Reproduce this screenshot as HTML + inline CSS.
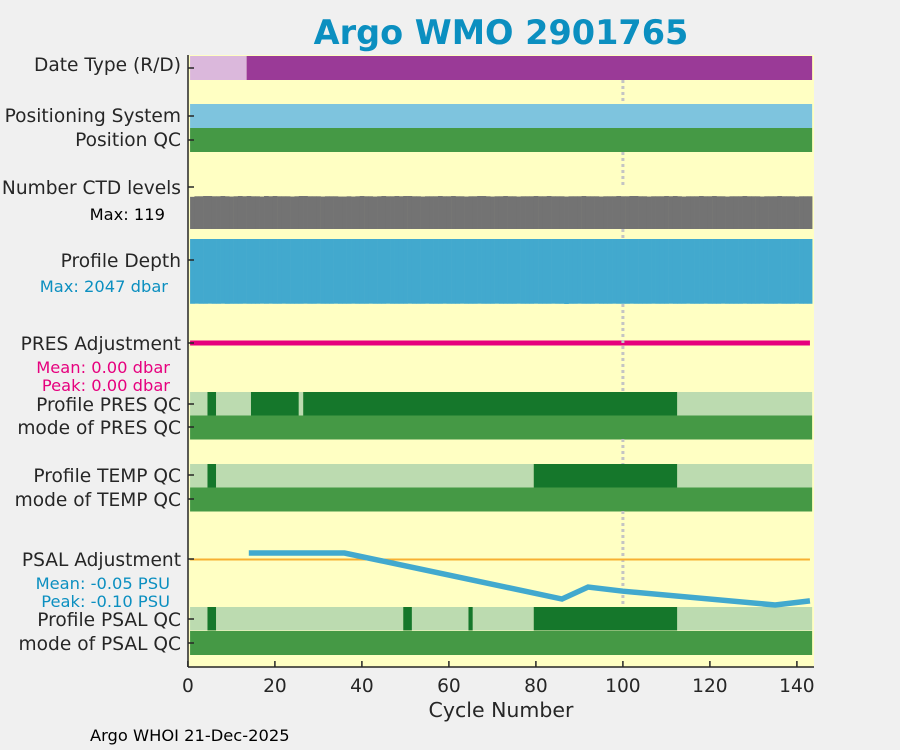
<!DOCTYPE html>
<html><head><meta charset="utf-8"><style>
body{margin:0;background:#f0f0f0;}
svg{display:block;font-family:"DejaVu Sans","Liberation Sans",sans-serif;}
</style></head><body>
<svg id="c" width="900" height="750" xmlns="http://www.w3.org/2000/svg">
<rect x="0" y="0" width="900" height="750" fill="#f0f0f0"/>
<text x="501" y="44" text-anchor="middle" font-size="33.5" font-weight="bold" fill="#0b8fc0">Argo WMO 2901765</text>
<rect x="188" y="55" width="626" height="612" fill="#ffffc3"/>
<g id="marks"></g>
<g id="labels" font-size="18.6" fill="#262626" text-anchor="end">
<text x="181" y="71">Date Type (R/D)</text>
<text x="181" y="122">Positioning System</text>
<text x="181" y="146">Position QC</text>
<text x="181" y="194">Number CTD levels</text>
<text x="165" y="220" font-size="16.3" fill="#000">Max: 119</text>
<text x="181" y="267">Profile Depth</text>
<text x="168" y="292" font-size="16.3" fill="#0b8fc0">Max: 2047 dbar</text>
<text x="181" y="350">PRES Adjustment</text>
<text x="170" y="373" font-size="16.3" fill="#e6007e">Mean: 0.00 dbar</text>
<text x="170" y="391" font-size="16.3" fill="#e6007e">Peak: 0.00 dbar</text>
<text x="181" y="411">Profile PRES QC</text>
<text x="181" y="434">mode of PRES QC</text>
<text x="181" y="482">Profile TEMP QC</text>
<text x="181" y="506">mode of TEMP QC</text>
<text x="181" y="566">PSAL Adjustment</text>
<text x="170" y="589" font-size="16.3" fill="#0b8fc0">Mean: -0.05 PSU</text>
<text x="170" y="607" font-size="16.3" fill="#0b8fc0">Peak: -0.10 PSU</text>
<text x="181" y="626">Profile PSAL QC</text>
<text x="181" y="650">mode of PSAL QC</text>
</g>
<g id="axis"></g>
<text x="501" y="717" text-anchor="middle" font-size="20.5" fill="#262626">Cycle Number</text>
<text x="90" y="741" font-size="16.3" fill="#000">Argo WHOI 21-Dec-2025</text>
</svg>
<script>
const NS="http://www.w3.org/2000/svg";
const xTicks=[0,20,40,60,80,100,120,140];
const dateSegments=[[0.5,13.5,"#dbb8dc"],[13.5,143.5,"#9a3a97"]];
const presQC=[[0.5,4.5,"l"],[4.5,6.5,"d"],[6.5,14.5,"l"],[14.5,25.5,"d"],[25.5,26.5,"l"],[26.5,112.5,"d"],[112.5,143.5,"l"]];
const tempQC=[[0.5,4.5,"l"],[4.5,6.5,"d"],[6.5,79.5,"l"],[79.5,112.5,"d"],[112.5,143.5,"l"]];
const psalQC=[[0.5,4.5,"l"],[4.5,6.5,"d"],[6.5,49.5,"l"],[49.5,51.5,"d"],[51.5,64.5,"l"],[64.5,65.5,"d"],[65.5,79.5,"l"],[79.5,112.5,"d"],[112.5,143.5,"l"]];
const psalCycles=[14,36,86,92,100,135,143];
const psalAdj=[0.013,0.013,-0.087,-0.061,-0.070,-0.100,-0.091];
const ctdLevels=[116,118,118,119,119,118,118,119,118,117,118,119,118,119,118,118,117,119,118,119,118,118,118,117,118,119,119,118,118,118,117,118,118,118,117,117,118,117,118,119,118,118,117,118,119,118,118,119,118,119,119,118,118,117,118,118,118,119,118,118,119,118,118,117,118,118,119,119,118,117,118,118,119,118,118,117,118,118,118,119,118,118,119,118,118,118,117,118,118,118,119,118,118,118,117,118,118,118,119,118,118,119,119,118,118,117,118,118,118,119,118,119,118,117,118,118,118,119,118,118,119,118,118,117,118,118,118,119,118,118,118,117,118,118,118,119,118,118,118,117,118,118,118];
const depths=[2040,2037,2040,2040,2037,2040,2040,2037,2042,2040,2040,2040,2037,2040,2040,2040,2037,2040,2037,2040,2040,2037,2040,2040,2040,2040,2037,2040,2040,2037,2040,2040,2040,2037,2040,2040,2040,2037,2040,2040,2040,2037,2040,2040,2040,2037,2040,2040,2040,2040,2037,2040,2040,2040,2037,2040,2040,2040,2037,2040,2040,2040,2037,2040,2040,2040,2037,2040,2040,2040,2037,2040,2040,2040,2040,2037,2040,2040,2040,2037,2040,2040,2040,2037,2040,2040,2047,2040,2040,2037,2040,2040,2040,2037,2040,2040,2040,2037,2040,2040,2040,2037,2040,2040,2040,2040,2037,2040,2040,2040,2037,2040,2040,2040,2037,2040,2040,2040,2037,2040,2040,2040,2037,2040,2040,2040,2040,2037,2040,2040,2040,2037,2040,2040,2040,2037,2040,2040,2040,2037,2040,2040,2040];
const X0=187.9, PX=4.35;
function x(c){return X0+c*PX;}
const g=document.getElementById('marks');
function rect(x1,y1,w,h,fill,name){const r=document.createElementNS(NS,'rect');r.setAttribute('x',x1);r.setAttribute('y',y1);r.setAttribute('width',w);r.setAttribute('height',h);r.setAttribute('fill',fill);


g.appendChild(r);return r;}
dateSegments.forEach(s=>rect(x(s[0]),56,x(s[1])-x(s[0]),24,s[2],'date-type-segment'));
rect(x(0.5),104,x(143.5)-x(0.5),24,"#7ec4de",'positioning-system-bar');
rect(x(0.5),128,x(143.5)-x(0.5),24,"#459945",'position-qc-bar');
function yCtd(v){return 229-(v/119)*33;}
ctdLevels.forEach((v,i)=>{const c=i+1;rect(x(c-0.5),yCtd(v),PX+0.3,229-yCtd(v),"#737373",'ctd-level-bar');});
function yDep(v){return 239+(v/2047)*65;}
depths.forEach((v,i)=>{const c=i+1;rect(x(c-0.5),239,PX+0.3,yDep(v)-239,"#42a9ce",'profile-depth-bar');});
rect(x(0.5),340.5,x(143)-x(0.5),5,"#e6007e",'pres-adjustment-line');
function qc(arr,y,name){arr.forEach(s=>rect(x(s[0]),y,x(s[1])-x(s[0]),23.5,s[2]=="d"?"#15772b":"#bcdbb0",name));}
qc(presQC,392,'pres-qc-segment');rect(x(0.5),415.5,x(143.5)-x(0.5),24,"#459945",'mode-pres-qc-bar');
qc(tempQC,464,'temp-qc-segment');rect(x(0.5),487.5,x(143.5)-x(0.5),24,"#459945",'mode-temp-qc-bar');
qc(psalQC,607,'psal-qc-segment');rect(x(0.5),631,x(143.5)-x(0.5),24,"#459945",'mode-psal-qc-bar');
[[80,104],[152,187],[229,239],[304,392],[439,464],[511,607]].forEach(s=>{const l=document.createElementNS(NS,'line');l.setAttribute('x1',x(100));l.setAttribute('x2',x(100));l.setAttribute('y1',s[0]);l.setAttribute('y2',s[1]);l.setAttribute('stroke','#c4c4c4');l.setAttribute('stroke-width','3');l.setAttribute('stroke-dasharray','3 3');


g.appendChild(l);});
function yPsal(v){return 559-v*460;}
const z=document.createElementNS(NS,'line');z.setAttribute('x1',x(0.5));z.setAttribute('x2',x(143));z.setAttribute('y1',559.5);z.setAttribute('y2',559.5);z.setAttribute('stroke','#f7b032');z.setAttribute('stroke-width','2');


g.appendChild(z);
const p=document.createElementNS(NS,'polyline');p.setAttribute('points',psalCycles.map((c,i)=>x(c)+','+yPsal(psalAdj[i])).join(' '));p.setAttribute('fill','none');p.setAttribute('stroke','#42a9ce');p.setAttribute('stroke-width','5.5');


g.appendChild(p);
const a=document.getElementById('axis');
function line(x1,y1,x2,y2,name){const l=document.createElementNS(NS,'line');l.setAttribute('x1',x1);l.setAttribute('y1',y1);l.setAttribute('x2',x2);l.setAttribute('y2',y2);l.setAttribute('stroke','#262626');l.setAttribute('stroke-width','1.5');


a.appendChild(l);}
line(188,55,188,667,'y-axis-line');line(188,667,814,667,'x-axis-line');
xTicks.forEach(t=>{line(x(t),667,x(t),661,'x-tick');const tx=document.createElementNS(NS,'text');tx.setAttribute('x',x(t));tx.setAttribute('y',692);tx.setAttribute('text-anchor','middle');tx.setAttribute('font-size','18.6');tx.setAttribute('fill','#262626');tx.textContent=t;


a.appendChild(tx);});
[68,116,140,187,260,343,404,427,475,499,559,619,643].forEach(y=>line(188,y,194,y,'y-tick'));
</script>
</body></html>
